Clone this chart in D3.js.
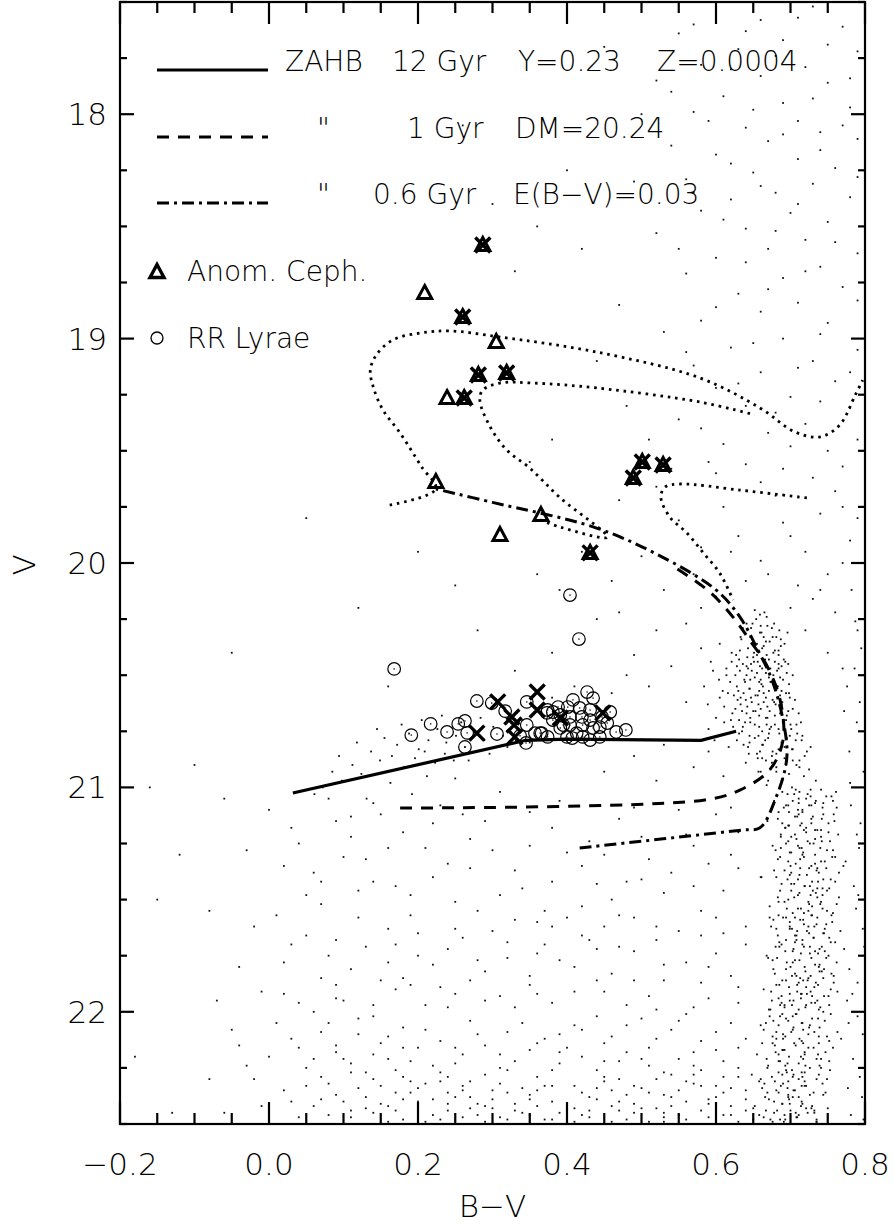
<!DOCTYPE html>
<html><head><meta charset="utf-8">
<script src="https://cdn.jsdelivr.net/npm/d3@7"></script>
<style>body{margin:0;background:#fff} text{font-family:"DejaVu Sans",sans-serif;font-weight:200;fill:#000}</style>
</head><body><svg id="c" width="894" height="1226"></svg>
<script>
// ---------------- DATA ----------------
const xMajorTicks=[-0.2,0.0,0.2,0.4,0.6,0.8];
const xTickLabels=["\u22120.2","0.0","0.2","0.4","0.6","0.8"];
const yMajorTicks=[18,19,20,21,22];
const yTickLabels=["18","19","20","21","22"];

// ZAHB / He-burning loci
const zahb12Gyr=[[0.032,21.025],[0.345,20.79],[0.40,20.785],[0.58,20.79],[0.627,20.75]];
const locus1Gyr=[[0.176,21.092],[0.585,21.056],[0.632,21.012],[0.672,20.922],[0.690,20.789],[0.686,20.61],[0.668,20.455],[0.645,20.343],[0.625,20.25],[0.592,20.13],[0.545,20.02]];
const locus06Gyr=[[0.417,21.27],[0.635,21.19],[0.659,21.18],[0.680,21.05],[0.695,20.87],[0.690,20.70],[0.675,20.52],[0.655,20.38],[0.632,20.24],[0.600,20.12],[0.520,19.96],[0.436,19.84],[0.300,19.73],[0.224,19.67]];
// dotted evolutionary tracks
const trackA=[[0.162,19.742],[0.224,19.670],[0.205,19.572],[0.176,19.421],[0.153,19.318],[0.140,19.216],[0.136,19.140],[0.144,19.073],[0.166,19.006],[0.203,18.975],[0.243,18.966],[0.310,18.993],[0.440,19.060],[0.579,19.176],[0.659,19.309],[0.706,19.416],[0.740,19.438],[0.766,19.385],[0.787,19.251],[0.797,19.185]];
const trackB=[[0.364,19.808],[0.391,19.840],[0.454,19.885],[0.391,19.710],[0.350,19.577],[0.319,19.496],[0.297,19.394],[0.283,19.274],[0.287,19.229],[0.310,19.198],[0.354,19.198],[0.440,19.220],[0.579,19.283],[0.652,19.340]];
const trackC=[[0.722,19.710],[0.632,19.675],[0.552,19.648],[0.532,19.661],[0.526,19.706],[0.538,19.795],[0.561,19.866],[0.583,19.955],[0.605,20.045],[0.623,20.165]];

// Anomalous Cepheids
const cephX=[0.287,0.209,0.260,0.305,0.281,0.319,0.239,0.262,0.224,0.365,0.310,0.431,0.501,0.529,0.489];
const cephV=[18.583,18.797,18.904,19.015,19.162,19.153,19.265,19.265,19.639,19.786,19.875,19.955,19.550,19.563,19.621];
// crossed stars
const crossX=[0.287,0.260,0.281,0.319,0.262,0.431,0.501,0.529,0.489,0.307,0.360,0.360,0.326,0.329,0.330,0.279,0.448,0.391];
const crossV=[18.583,18.904,19.162,19.153,19.265,19.955,19.550,19.563,19.621,20.619,20.575,20.655,20.686,20.722,20.775,20.758,20.668,20.691];
// RR Lyrae
const rrX=[0.168,0.404,0.416,0.191,0.217,0.239,0.254,0.263,0.266,0.263,0.279,0.299,0.306,0.346,0.346,0.345,0.357,0.366,0.374,0.374,0.381,0.388,0.391,0.391,0.401,0.404,0.404,0.408,0.400,0.407,0.417,0.420,0.421,0.427,0.435,0.431,0.431,0.435,0.431,0.444,0.447,0.444,0.458,0.454,0.466,0.479,0.413,0.395,0.381,0.373,0.421,0.364,0.317,0.337];
const rrV=[20.472,20.143,20.339,20.767,20.717,20.753,20.717,20.704,20.757,20.820,20.615,20.624,20.762,20.619,20.722,20.802,20.758,20.758,20.775,20.655,20.664,20.642,20.677,20.735,20.642,20.686,20.722,20.610,20.775,20.780,20.646,20.686,20.722,20.575,20.602,20.655,20.700,20.735,20.789,20.731,20.686,20.775,20.664,20.713,20.753,20.744,20.758,20.722,20.700,20.668,20.775,20.758,20.66,20.77];

// field stars [B-V, V]
const fieldClump=[[0.652,20.21],[0.668,20.24],[0.641,20.27],[0.675,20.29],[0.659,20.31],[0.633,20.33],[0.687,20.34],[0.648,20.36],[0.664,20.37],[0.679,20.39],[0.621,20.40],[0.655,20.41],[0.642,20.42],[0.671,20.43],[0.693,20.44],[0.636,20.45],[0.659,20.46],[0.684,20.47],[0.648,20.48],[0.667,20.49],[0.626,20.50],[0.677,20.50],[0.652,20.51],[0.690,20.52],[0.639,20.53],[0.661,20.54],[0.682,20.55],[0.645,20.56],[0.671,20.57],[0.616,20.58],[0.698,20.58],[0.656,20.59],[0.633,20.60],[0.676,20.61],[0.664,20.62],[0.688,20.63],[0.642,20.64],[0.703,20.65],[0.653,20.66],[0.622,20.67],[0.679,20.68],[0.667,20.69],[0.694,20.70],[0.646,20.71],[0.708,20.72],[0.658,20.73],[0.684,20.74],[0.635,20.75],[0.671,20.76],[0.699,20.77],[0.652,20.78],[0.715,20.79],[0.688,20.80],[0.663,20.81],[0.703,20.83],[0.676,20.84],[0.644,20.85],[0.719,20.86],[0.692,20.87],[0.667,20.88],[0.708,20.90],[0.681,20.91],[0.725,20.92],[0.657,20.93],[0.698,20.94],
[0.660,20.28],[0.646,20.33],[0.672,20.35],[0.657,20.39],[0.684,20.41],[0.631,20.43],[0.667,20.45],[0.651,20.44],[0.695,20.49],[0.641,20.50],[0.660,20.52],[0.673,20.53],[0.628,20.55],[0.658,20.57],[0.686,20.59],[0.647,20.60],[0.669,20.64],[0.697,20.66],[0.631,20.70],[0.679,20.72],[0.662,20.75],[0.709,20.76],[0.645,20.80],[0.727,20.82],[0.684,20.83],[0.656,20.87],[0.712,20.88],[0.690,20.96],[0.734,20.97],[0.668,20.99],
[0.593,20.44],[0.604,20.52],[0.589,20.63],[0.611,20.71],[0.598,20.79],[0.605,20.36],[0.584,20.55],[0.614,20.47],
[0.662,20.47],[0.648,20.62],[0.681,20.33],[0.639,20.71],[0.671,20.51],[0.654,20.25],[0.695,20.68],[0.628,20.46],[0.666,20.79],[0.688,20.57],[0.643,20.38],[0.675,20.86],[0.657,20.63],[0.619,20.53],[0.701,20.74],[0.661,20.31],[0.684,20.45],[0.637,20.58],[0.669,20.69],[0.650,20.42],[0.692,20.82],[0.626,20.65],[0.678,20.27],[0.645,20.77],[0.663,20.55],[0.706,20.61],[0.634,20.34],[0.673,20.92],[0.655,20.49],[0.687,20.37],[0.641,20.67],[0.668,20.41],[0.698,20.54],[0.623,20.73],[0.659,20.84],[0.680,20.63],[0.647,20.29],[0.714,20.71],[0.664,20.58],[0.632,20.48],[0.691,20.43],[0.652,20.72],[0.676,20.53],[0.640,20.89],[0.667,20.35],[0.703,20.88],[0.629,20.61],[0.685,20.76],[0.656,20.44],[0.611,20.64],[0.672,20.66],[0.646,20.52],[0.696,20.31],[0.660,20.93],[0.682,20.48],[0.637,20.81],[0.718,20.95],[0.653,20.59],[0.674,20.73],[0.621,20.44],[0.689,20.62],[0.665,20.22],[0.643,20.47],[0.707,20.79],[0.658,20.68],[0.679,20.56],[0.631,20.76],[0.694,20.90],[0.650,20.35],[0.670,20.78],[0.609,20.57],[0.686,20.51],[0.662,20.87],[0.722,20.84],[0.635,20.66],[0.677,20.40],[0.600,20.69],[0.596,20.48],[0.617,20.82],[0.590,20.74],
[0.655,20.36],[0.678,20.62],[0.641,20.46],[0.669,20.28],[0.690,20.71],[0.630,20.57],[0.662,20.81],[0.684,20.39],[0.646,20.69],[0.673,20.47],[0.636,20.29],[0.699,20.60],[0.658,20.53],[0.620,20.70],[0.681,20.85],[0.651,20.40],[0.667,20.60],[0.703,20.50],[0.643,20.82],[0.676,20.33],[0.627,20.41],[0.688,20.46],[0.660,20.65],[0.695,20.78],[0.638,20.52],[0.672,20.74],[0.649,20.27],[0.711,20.67],[0.666,20.43],[0.633,20.63],[0.683,20.55],[0.657,20.77],[0.692,20.36],[0.624,20.59],[0.675,20.89],[0.645,20.56],[0.702,20.83],[0.662,20.38],[0.686,20.67],[0.614,20.50],[0.655,20.85],[0.679,20.44],[0.640,20.61],[0.697,20.45],[0.668,20.72],[0.632,20.39],[0.712,20.91],[0.650,20.66],[0.685,20.30],[0.605,20.60],[0.670,20.97],[0.694,20.58],[0.628,20.79],[0.659,20.23],[0.681,20.93],[0.716,20.77],[0.647,20.45],[0.664,20.33],[0.700,20.72],[0.636,20.73]];
const fieldRGB=[[0.702,21.00],[0.741,21.01],[0.689,21.02],[0.723,21.03],[0.755,21.04],[0.711,21.05],[0.678,21.06],[0.733,21.07],[0.697,21.08],[0.762,21.09],[0.716,21.10],[0.684,21.11],[0.744,21.12],[0.706,21.13],[0.728,21.14],[0.669,21.15],[0.751,21.16],[0.713,21.17],[0.693,21.18],[0.736,21.19],[0.721,21.20],[0.764,21.21],[0.687,21.22],[0.708,21.23],[0.742,21.24],[0.726,21.25],[0.676,21.26],[0.715,21.27],[0.757,21.28],[0.699,21.29],[0.733,21.30],[0.718,21.31],[0.683,21.32],[0.746,21.33],[0.707,21.34],[0.771,21.35],[0.725,21.36],[0.692,21.37],[0.738,21.38],[0.712,21.39],[0.661,21.40],[0.754,21.41],[0.729,21.42],[0.701,21.43],[0.719,21.44],[0.743,21.45],[0.686,21.46],[0.734,21.47],[0.710,21.48],[0.765,21.49],[0.697,21.50],[0.724,21.51],[0.740,21.52],[0.672,21.53],[0.714,21.54],[0.749,21.55],[0.703,21.56],[0.728,21.57],[0.690,21.58],[0.717,21.59],[0.756,21.60],[0.735,21.61],[0.699,21.62],[0.681,21.63],[0.722,21.64],[0.745,21.65],[0.708,21.66],[0.731,21.67],[0.694,21.68],[0.760,21.69],[0.716,21.70],[0.685,21.71],[0.739,21.72],[0.703,21.73],[0.726,21.74],[0.668,21.75],[0.748,21.76],[0.712,21.77],[0.695,21.78],[0.733,21.79],[0.719,21.80],[0.677,21.81],[0.742,21.82],[0.706,21.83],[0.758,21.84],[0.724,21.85],[0.689,21.86],[0.711,21.87],[0.737,21.88],[0.698,21.89],[0.664,21.90],[0.727,21.91],[0.715,21.92],[0.751,21.93],[0.684,21.94],[0.704,21.95],[0.733,21.96],[0.692,21.97],[0.720,21.98],[0.673,21.99],[0.744,22.00],[0.708,22.01],[0.686,22.02],[0.729,22.03],[0.697,22.04],[0.716,22.05],[0.660,22.06],[0.739,22.07],[0.703,22.08],[0.681,22.09],[0.724,22.10],[0.693,22.11],[0.712,22.12],[0.752,22.13],[0.676,22.14],[0.707,22.15],[0.731,22.16],[0.689,22.17],[0.719,22.18],[0.655,22.19],[0.698,22.20],[0.741,22.21],[0.684,22.22],[0.711,22.23],[0.670,22.24],[0.726,22.25],[0.694,22.26],[0.715,22.27],[0.648,22.28],[0.703,22.29],[0.735,22.30],[0.679,22.31],[0.690,22.32],[0.721,22.33],[0.662,22.34],[0.706,22.35],[0.684,22.36],[0.744,22.37],[0.697,22.38],[0.671,22.39],[0.715,22.40],[0.689,22.41],[0.652,22.42],[0.728,22.43],[0.700,22.44],[0.678,22.45],[0.711,22.46],[0.664,22.47],[0.693,22.48],[0.735,22.49],
[0.712,21.47],[0.688,21.93],[0.741,21.22],[0.703,22.38],[0.726,21.71],[0.679,22.15],[0.757,21.06],[0.694,21.58],[0.719,22.27],[0.733,21.34],[0.667,22.44],[0.745,21.81],[0.709,21.13],[0.684,22.06],[0.728,21.96],[0.699,21.39],[0.762,21.52],[0.715,22.33],[0.676,21.77],[0.738,22.11],[0.705,21.03],[0.691,22.49],[0.724,21.62],[0.749,21.28],[0.681,21.88],[0.717,22.21],[0.697,21.17],[0.736,21.45],[0.658,22.31],[0.711,21.99],[0.754,21.69],[0.686,21.31],[0.729,22.42],[0.702,21.84],[0.743,21.09],[0.672,22.02],[0.718,21.56],[0.693,22.24],[0.731,21.25],[0.708,22.47],[0.765,21.38],[0.683,21.66],[0.722,21.92],[0.747,22.18],[0.698,21.11],[0.714,21.74],[0.669,22.36],[0.736,21.49],[0.701,22.09],[0.727,21.01],[0.688,21.43],[0.752,21.97],[0.716,22.29],[0.677,21.59],[0.739,21.79],[0.706,21.21],[0.692,21.98],[0.723,22.45],[0.759,21.15],[0.684,22.19],[0.713,21.36],[0.734,21.87],[0.696,22.34],[0.748,21.61],[0.664,22.08],[0.721,21.05],[0.704,21.72],[0.741,22.25],[0.687,21.27],[0.729,21.53],[0.699,22.41],[0.755,21.83],[0.718,21.19],[0.675,21.95],[0.737,22.03],[0.709,21.64],[0.694,21.08],[0.726,22.37],[0.744,21.41],[0.682,21.76],[0.715,22.13],[0.701,21.29],[0.763,21.91],[0.731,21.67],[0.689,22.28],[0.719,21.44],[0.673,22.48],[0.742,21.14],[0.707,22.01],[0.732,21.89],[0.695,21.54],[0.752,22.22],[0.713,21.32],[0.685,21.69],[0.724,22.16],[0.761,21.02],[0.698,22.39],[0.735,21.37],[0.679,21.83],[0.711,21.07],[0.746,21.73],[0.702,22.26],[0.727,21.48],[0.690,22.12],[0.717,21.86],[0.756,21.31],[0.668,22.21],[0.738,21.99],[0.706,21.58],[0.721,22.43],[0.693,21.18],[0.749,21.46],[0.714,21.94],[0.681,22.35],[0.733,21.23],[0.703,21.78],[0.767,21.64],[0.725,22.07],[0.696,21.41],[0.743,22.32],[0.711,21.12],[0.686,21.97],[0.729,21.57],[0.658,22.46],[0.739,21.82],[0.719,22.19],[0.700,21.35],[0.753,21.24],[0.677,22.04],[0.716,21.68],[0.735,22.49],[0.692,21.51],[0.709,21.91],[0.748,21.04],[0.684,22.27],[0.722,21.39],[0.705,22.14],[0.737,21.74],[0.674,21.62],[0.728,21.16],[0.697,22.31],[0.757,21.56],[0.713,21.85],[0.689,22.41],[0.741,21.33],[0.703,21.06],[0.720,22.24],[0.680,21.71],[0.745,21.93],[0.710,21.26],[0.732,22.09],[0.694,21.81],[0.666,22.38],[0.726,21.44],[0.751,21.75],[0.707,22.45],[0.687,21.21],[0.718,21.61],[0.738,22.28],[0.699,21.95],[0.760,21.42],[0.715,22.05],[0.683,21.49],[0.730,21.13],[0.704,22.35],[0.744,21.65],[0.690,22.17],[0.723,21.86],[0.671,21.99],[0.712,21.02],[0.736,21.58],[0.696,22.23],[0.754,22.01],[0.717,21.29],[0.681,22.12],[0.728,21.76],[0.701,21.46],[0.747,22.36],[0.709,21.88],[0.686,22.48],[0.733,21.19],[0.719,22.33],[0.662,22.14],[0.741,21.51],[0.706,21.69],[0.694,22.03],[0.725,21.08],[0.758,21.87],[0.714,22.42],[0.678,21.37],[0.737,22.19],[0.702,21.63],[0.721,21.97],[0.689,21.16],[0.749,22.11],[0.710,21.54],[0.732,22.44],[0.697,21.24],[0.675,22.29],[0.742,21.71],[0.716,21.11],[0.704,22.07],[0.727,21.84],[0.684,21.57],[0.753,22.26],[0.699,21.92],[0.736,21.36],
[0.705,21.43],[0.731,22.36],[0.683,21.14],[0.752,21.67],[0.717,22.08],[0.694,21.86],[0.740,21.27],[0.669,22.25],[0.725,21.52],[0.709,22.47],[0.758,21.12],[0.688,21.70],[0.736,21.95],[0.701,21.22],[0.678,22.40],[0.746,22.04],[0.713,21.59],[0.692,22.17],[0.728,21.08],[0.762,21.78],[0.697,21.33],[0.719,22.31],[0.674,21.91],[0.743,21.48],[0.707,21.01],[0.686,22.22],[0.733,21.73],[0.715,21.16],[0.750,22.43],[0.699,21.63],[0.721,21.89],[0.680,21.28],[0.738,22.14],[0.710,21.41],[0.692,22.46],[0.755,21.57],[0.727,21.04],[0.704,22.28],[0.670,21.76],[0.744,21.85],[0.716,21.30],[0.689,22.01],[0.732,21.62],[0.698,21.17],[0.763,22.09],[0.711,22.38],[0.684,21.51],[0.740,21.98],[0.723,21.24],[0.700,21.80],[0.676,22.11],[0.748,21.36],[0.714,22.20],[0.691,21.09],[0.735,22.48],[0.706,21.66],[0.729,21.93],[0.665,22.32],[0.752,21.45],[0.718,21.71],[0.695,22.27],[0.741,21.19],[0.708,21.84],[0.682,22.44],[0.724,21.55],[0.757,22.16],[0.701,21.38],[0.734,21.06],[0.688,21.96],[0.716,22.41],[0.746,21.63],[0.672,21.58],[0.712,21.27],[0.739,22.24],[0.693,21.73],[0.726,22.06],[0.705,21.49],[0.760,21.31],[0.680,22.18],[0.720,21.82],[0.697,22.37],[0.737,21.42],[0.710,21.10],[0.685,21.88],[0.749,22.30],[0.703,22.02],[0.728,21.35],[0.667,22.05],[0.743,21.54],[0.714,21.92],[0.694,21.25],[0.732,22.45],[0.708,21.68],[0.754,21.90],[0.687,22.33],[0.721,21.18],[0.699,21.60],[0.738,21.80],[0.676,22.49],[0.717,22.14],[0.744,21.07],[0.702,21.97],[0.730,21.46],[0.690,22.10],[0.725,21.65],[0.711,22.30],[0.681,21.40],[0.751,21.20],[0.706,21.77],[0.735,22.21],[0.696,21.03],
[0.782,20.12],[0.795,20.38],[0.776,20.55],[0.789,20.71],[0.798,20.93],[0.781,21.08],[0.792,21.27],[0.785,21.44],[0.797,21.63],[0.779,21.81],[0.790,22.02],[0.784,22.21],[0.796,22.38],[0.787,20.26],[0.779,20.84],[0.794,21.16],[0.788,21.54],[0.776,21.95],[0.793,22.29],[0.781,22.46],[0.770,20.47],[0.772,21.72],[0.768,22.12],
[0.774,21.33],[0.791,21.48],[0.783,21.92],[0.797,22.10],[0.777,22.34],[0.789,21.21],[0.799,21.71],[0.780,20.98],[0.793,20.62],[0.786,20.47],[0.772,20.66],[0.798,22.48],[0.778,22.05],[0.790,21.87]];
const fieldUpper=[[0.47,20.22],[0.52,20.30],[0.56,20.27],[0.49,20.41],[0.54,20.46],[0.58,20.38],[0.51,20.55],[0.46,20.58],[0.56,20.62],[0.53,20.81],[0.49,20.86],[0.57,20.91],[0.61,20.95],[0.45,20.93],[0.52,20.97],[0.59,20.84],[0.48,20.50],
[0.47,19.72],[0.52,19.66],[0.55,19.81],[0.58,19.93],[0.61,19.75],[0.63,19.88],[0.66,19.99],[0.69,19.82],[0.72,19.95],[0.75,20.05],[0.78,19.90],[0.74,19.78],[0.71,20.10],[0.64,20.08],[0.60,20.15],[0.57,20.05],[0.50,19.97],[0.46,20.08],[0.42,19.95],[0.39,20.12],[0.36,20.05],[0.68,19.70],[0.76,19.68],[0.79,19.80],[0.73,20.16],
[0.60,17.55],[0.66,17.58],[0.73,17.52],[0.77,17.61],[0.55,17.64],[0.69,17.67],[0.79,17.72],[0.63,17.71],[0.58,17.78],[0.72,17.79],[0.66,17.83],[0.75,17.86],[0.52,17.85],[0.61,17.92],[0.69,17.95],[0.78,17.97],[0.57,17.99],[0.71,18.03],[0.64,18.06],[0.74,18.08],[0.67,18.12],[0.79,18.11],[0.54,18.14],[0.60,18.18],[0.71,18.20],[0.76,18.24],[0.65,18.26],[0.56,18.29],[0.73,18.31],[0.68,18.35],[0.62,18.38],[0.78,18.37],[0.58,18.43],[0.70,18.44],[0.75,18.48],[0.64,18.51],[0.52,18.53],[0.72,18.56],[0.67,18.60],[0.79,18.62],[0.60,18.64],[0.74,18.68],[0.56,18.71],[0.69,18.73],[0.77,18.77],[0.63,18.80],[0.71,18.84],[0.66,18.88],[0.58,18.92],[0.75,18.93],[0.53,18.97],[0.69,19.00],[0.62,19.04],[0.79,19.05],[0.73,19.10],[0.57,19.12],[0.66,19.15],[0.76,19.19],[0.60,19.22],[0.70,19.26],[0.64,19.30],[0.78,19.31],[0.55,19.36],[0.72,19.38],[0.67,19.42],[0.61,19.47],[0.75,19.50],[0.59,19.55],[0.69,19.58],[0.77,19.57],[0.51,19.45],[0.48,19.30],[0.44,19.10],[0.47,18.85],[0.42,18.60],[0.40,18.25],[0.36,18.50],[0.38,19.45],[0.33,18.70],[0.35,19.55],[0.30,18.40],[0.26,18.05],[0.45,17.70],[0.50,18.00],[0.49,18.30],
[0.57,17.60],[0.64,17.63],[0.71,17.57],[0.75,17.69],[0.62,17.80],[0.68,17.74],[0.78,17.84],[0.54,17.90],[0.73,17.93],[0.65,17.98],[0.59,18.03],[0.77,18.05],[0.69,18.09],[0.62,18.22],[0.74,18.16],[0.57,18.35],[0.66,18.32],[0.79,18.28],[0.71,18.40],[0.61,18.47],[0.68,18.52],[0.76,18.57],[0.55,18.60],[0.64,18.66],[0.72,18.70],[0.79,18.83],[0.67,18.78],[0.60,18.86],[0.74,18.98],[0.65,19.02],[0.56,19.06],[0.71,19.13],[0.78,19.15],[0.63,19.20],[0.68,19.33],[0.74,19.28],[0.58,19.40],[0.70,19.48],[0.79,19.45],[0.64,19.56],[0.73,19.62],[0.66,19.64],[0.77,19.75],[0.70,19.88],[0.60,19.60],[0.54,19.58],[0.62,19.95],[0.67,20.05],[0.77,20.00],[0.74,20.12],[0.70,20.20],[0.79,20.30],[0.75,20.40],[0.72,20.30],[0.76,20.22],[0.58,20.20],[0.53,20.12],[0.44,20.25],[0.41,20.55],[0.38,20.60],
[0.05,19.80],[0.12,20.20],[-0.05,20.40],[0.20,19.95],[0.28,20.30],[0.16,20.55],[0.33,20.48],[0.25,20.10],[0.38,20.40]];
const fieldBHB=[[0.155,20.78],[0.172,20.81],[0.188,20.76],[0.201,20.83],[0.214,20.79],[0.226,20.74],[0.238,20.80],[0.251,20.77],[0.263,20.82],[0.276,20.75],[0.289,20.79],[0.301,20.73],[0.314,20.77],[0.137,20.84],[0.149,20.88],[0.165,20.86],[0.181,20.91],[0.196,20.87],[0.209,20.84],[0.223,20.89],[0.236,20.85],[0.248,20.88],[0.112,20.90],[0.124,20.94],[0.098,20.97],[0.085,20.93],[0.072,21.00],[0.061,21.03],[0.178,20.72],[0.205,20.70],[0.232,20.68],[0.258,20.71],[0.284,20.69],[0.145,20.74],[0.118,20.80],[0.094,20.86],[0.268,20.88],[0.212,20.95],[0.163,20.98],[0.131,21.05],[0.192,21.03],[0.250,20.96],[0.296,20.85],[0.320,20.82],[0.340,20.70],[0.350,20.80]];
const fieldLower=[[0.00,21.10],[0.04,21.25],[0.09,21.15],[0.13,21.32],[0.18,21.20],[0.22,21.40],[0.26,21.12],[0.30,21.28],[0.34,21.45],[0.38,21.18],[0.42,21.35],[0.46,21.50],[0.50,21.22],[0.54,21.38],[0.58,21.55],[0.62,21.30],[0.64,21.62],[0.60,21.12],[0.52,21.68],[0.44,21.72],[0.36,21.60],[0.28,21.55],[0.20,21.65],[0.12,21.58],[0.05,21.48],[-0.02,21.62],[0.08,21.75],[0.16,21.78],[0.24,21.72],[0.32,21.76],[0.40,21.58],[0.48,21.42],[0.56,21.78],[0.61,21.46],[0.47,21.14],[0.39,21.06],[0.31,21.02],[0.23,21.08],[0.15,21.12],[0.11,21.22],[0.02,21.35],[0.07,21.42],[0.19,21.48],[0.27,21.36],[0.35,21.26],[0.43,21.24],[0.51,21.32],[0.57,21.44],[0.63,21.20],[0.66,21.40],[0.41,21.80],[0.29,21.82],[0.18,21.85],[0.09,21.88],[-0.04,21.80],[0.53,21.86],[0.45,21.62],[0.37,21.70],[0.25,21.63],[0.14,21.42],[0.03,21.70],[-0.08,21.55],[-0.12,21.30],[-0.06,21.05],[0.58,21.66],[0.49,21.58],
[0.03,21.18],[0.07,21.52],[0.10,21.31],[0.14,21.07],[0.17,21.44],[0.21,21.27],[0.25,21.51],[0.29,21.15],[0.33,21.37],[0.37,21.55],[0.40,21.29],[0.44,21.43],[0.49,21.09],[0.53,21.47],[0.56,21.21],[0.60,21.58],[0.63,21.36],[0.55,21.10],[0.45,21.30],[0.35,21.11],[0.24,21.34],[0.12,21.46],[0.01,21.57],[-0.03,21.28],[0.08,21.05],[0.19,21.57],[0.31,21.48],[0.42,21.53],[0.59,21.34],[0.50,21.41],[0.27,21.23],[0.16,21.27],[0.06,21.38],[0.38,21.42],[0.47,21.57],[0.62,21.09],[0.22,21.16],[0.33,21.59],[0.57,21.26],[0.11,21.13],
[0.02,21.78],[0.05,21.66],[0.09,21.94],[0.13,21.71],[0.16,21.63],[0.19,21.88],[0.22,21.79],[0.26,21.67],[0.29,21.95],[0.32,21.69],[0.35,21.84],[0.38,21.62],[0.41,21.91],[0.43,21.68],[0.46,21.83],[0.49,21.73],[0.51,21.93],[0.55,21.64],[0.58,21.87],[0.60,21.74],[0.63,21.96],[0.64,21.70],[0.48,21.97],[0.36,21.92],[0.23,21.89],[0.11,21.81],[-0.01,21.91],[0.07,21.85],[0.17,21.70],[0.27,21.86],[0.39,21.77],[0.53,21.79],[0.61,21.65],[0.44,21.86],[0.30,21.64],[0.20,21.75],[0.14,21.97],[0.04,21.96],[0.33,21.98],[0.57,21.98],[0.42,21.66],[0.25,21.92],[0.52,21.62],[0.09,21.68],[0.15,21.86],[0.36,21.74],[0.47,21.71],[0.59,21.80],[0.62,21.84],[0.28,21.77],
[0.02,21.92],[0.10,21.95],[0.17,21.90],[0.24,21.98],[0.31,21.93],[0.38,21.96],[0.45,21.91],[0.52,21.99],[0.59,21.94],[0.63,21.89],[0.06,22.00],[0.14,22.02],[0.21,21.97],[0.35,21.88],[0.49,21.86],[0.56,22.01],
[-0.05,22.08],[0.03,22.12],[0.08,22.05],[0.12,22.10],[0.18,22.07],[0.23,22.13],[0.27,22.04],[0.32,22.09],[0.36,22.14],[0.41,22.06],[0.46,22.11],[0.50,22.03],[0.54,22.08],[0.58,22.13],[0.62,22.05],[0.64,22.12],[0.29,22.15],[0.44,22.02],[0.15,22.14],[0.39,22.10],
[0.00,22.20],[0.05,22.25],[0.09,22.18],[0.13,22.27],[0.16,22.21],[0.20,22.16],[0.22,22.24],[0.26,22.19],[0.29,22.28],[0.33,22.22],[0.35,22.17],[0.38,22.26],[0.42,22.20],[0.45,22.29],[0.48,22.18],[0.51,22.24],[0.55,22.21],[0.57,22.28],[0.60,22.17],[0.63,22.25],[0.11,22.23],[0.24,22.29],[0.40,22.16],[0.53,22.27],[0.47,22.22],[0.31,22.25],[0.18,22.29],[0.07,22.29],[-0.03,22.24],[0.61,22.22],
[0.02,22.35],[0.06,22.42],[0.08,22.32],[0.11,22.47],[0.13,22.38],[0.15,22.33],[0.17,22.44],[0.19,22.36],[0.21,22.49],[0.23,22.31],[0.24,22.41],[0.26,22.35],[0.28,22.46],[0.30,22.39],[0.31,22.32],[0.33,22.44],[0.35,22.37],[0.37,22.48],[0.38,22.33],[0.40,22.42],[0.42,22.36],[0.43,22.47],[0.45,22.31],[0.47,22.40],[0.49,22.45],[0.50,22.34],[0.52,22.43],[0.54,22.38],[0.56,22.48],[0.57,22.32],[0.59,22.41],[0.61,22.36],[0.62,22.46],[0.64,22.39],[0.10,22.40],[0.14,22.45],[0.18,22.39],[0.22,22.46],[0.27,22.43],[0.32,22.48],[0.36,22.42],[0.41,22.49],[0.44,22.39],[0.48,22.37],[0.53,22.47],[0.58,22.44],[0.60,22.33],[0.65,22.43],[0.04,22.47],[0.20,22.34],[0.29,22.42],[0.34,22.34],[0.39,22.45],[0.46,22.35],[0.51,22.49],[0.55,22.35],[0.63,22.49],[-0.01,22.42],[0.25,22.38],[0.16,22.49],
[0.01,22.05],[0.04,22.16],[0.07,22.09],[0.09,22.37],[0.10,22.21],[0.12,22.03],[0.13,22.43],[0.14,22.30],[0.16,22.11],[0.17,22.36],[0.19,22.22],[0.20,22.45],[0.21,22.08],[0.22,22.39],[0.23,22.27],[0.25,22.16],[0.26,22.47],[0.27,22.31],[0.28,22.10],[0.30,22.43],[0.31,22.19],[0.32,22.36],[0.34,22.05],[0.35,22.46],[0.36,22.29],[0.37,22.12],[0.38,22.40],[0.39,22.23],[0.41,22.33],[0.42,22.08],[0.43,22.44],[0.44,22.26],[0.45,22.14],[0.46,22.49],[0.47,22.30],[0.48,22.06],[0.49,22.41],[0.50,22.21],[0.51,22.36],[0.52,22.12],[0.53,22.45],[0.54,22.28],[0.55,22.04],[0.56,22.40],[0.57,22.18],[0.58,22.33],[0.59,22.47],[0.60,22.09],[0.61,22.29],[0.62,22.42],[0.63,22.16],[0.64,22.35],[0.65,22.48],[0.05,22.33],[0.08,22.46],[0.11,22.27],[0.15,22.41],[0.18,22.48],[0.21,22.32],[0.24,22.44],[0.27,22.38],[0.29,22.49],[0.33,22.41],[0.36,22.35],[0.40,22.47],[0.43,22.38],[0.47,22.44],[0.50,22.43],[0.53,22.37],[0.56,22.31],[0.59,22.39],[0.62,22.34],[0.03,22.40],[0.06,22.21],[0.12,22.34],[0.16,22.42],[0.19,22.31],[0.23,22.48],[0.26,22.33],[0.30,22.35],[0.34,22.45],[0.37,22.33],[0.41,22.43],[0.44,22.34],[0.48,22.48],[0.52,22.30],[0.55,22.46],[0.58,22.26],[0.61,22.46],[0.64,22.44],[-0.02,22.30],[-0.06,22.45],[-0.04,22.15],[0.00,22.48],[0.09,22.15],[0.14,22.19],[0.18,22.16],[0.25,22.23],[0.32,22.26],[0.39,22.18],[0.45,22.22],[0.51,22.16],[0.57,22.24],[0.63,22.29],[0.20,22.40],[0.28,22.41],[0.35,22.39],[0.42,22.46],[0.49,22.33],[0.54,22.42],[0.60,22.38],[0.07,22.39],[0.11,22.44],[0.24,22.36],[0.38,22.48],[0.46,22.42],[0.53,22.49],[0.66,22.30],[0.31,22.47],[0.17,22.26],
[-0.15,21.50],[-0.10,20.90],[-0.18,22.20],[-0.13,22.45],[-0.08,22.30],[-0.07,21.95],[-0.16,21.00]];

// legend
const legendLines=[
 {dash:null, y:70, texts:[["ZAHB",285],["12  Gyr",392],["Y=0.23",518],["Z=0.0004",657]]},
 {dash:"12,9", y:137, texts:[["\"",317],["1  Gyr",407],["DM=20.24",515]]},
 {dash:"12,5,3,5", y:203, texts:[["\"",317],["0.6  Gyr",373],["E(B\u2212V)=0.03",513]]}
];

// ---------------- DRAW ----------------
const L=120,R=865,T=2,B=1124;
const svg=d3.select("#c");
const x=d3.scaleLinear().domain([-0.2,0.8]).range([L,R]);
const y=d3.scaleLinear().domain([17.5,22.5]).range([T,B]);
const plot=svg.append("g");
plot.append("defs").append("clipPath").attr("id","clip").append("rect").attr("x",L).attr("y",T).attr("width",R-L).attr("height",B-T);
const g=plot.append("g").attr("clip-path","url(#clip)");

const field=[].concat(fieldClump,fieldRGB,fieldUpper,fieldBHB,fieldLower);
g.selectAll("rect.f").data(field).join("rect").attr("class","f")
 .attr("x",d=>x(d[0])-0.9).attr("y",d=>y(d[1])-0.9).attr("width",1.8).attr("height",1.8).attr("fill","#111");

const line=d3.line().x(d=>x(d[0])).y(d=>y(d[1])).curve(d3.curveCatmullRom.alpha(0.5));
const lineLin=d3.line().x(d=>x(d[0])).y(d=>y(d[1]));
g.append("path").attr("d",lineLin(zahb12Gyr)).attr("fill","none").attr("stroke","#000").attr("stroke-width",3.2);
g.append("path").attr("d",line(locus1Gyr)).attr("fill","none").attr("stroke","#000").attr("stroke-width",3).attr("stroke-dasharray","12,9");
g.append("path").attr("d",line(locus06Gyr)).attr("fill","none").attr("stroke","#000").attr("stroke-width",3).attr("stroke-dasharray","12,5,3,5");
[trackA,trackB,trackC].forEach(t=>{
 g.append("path").attr("d",line(t)).attr("fill","none").attr("stroke","#000").attr("stroke-width",2.8).attr("stroke-dasharray","2.6,4.8");
});

// RR Lyrae
const rr=rrX.map((v,i)=>[v,rrV[i]]);
g.selectAll("circle.rr").data(rr).join("circle").attr("class","rr").attr("cx",d=>x(d[0])).attr("cy",d=>y(d[1])).attr("r",6.3)
 .attr("fill","none").attr("stroke","#000").attr("stroke-width",1.2);
g.selectAll("rect.rrc").data(rr).join("rect").attr("class","rrc").attr("x",d=>x(d[0])-0.7).attr("y",d=>y(d[1])-0.7).attr("width",1.4).attr("height",1.4).attr("fill","#222");

// Cepheids
const triPath="M0,-7.5L7,5.5L-7,5.5Z";
const ceph=cephX.map((v,i)=>[v,cephV[i]]);
g.selectAll("path.ac").data(ceph).join("path").attr("class","ac").attr("d",triPath)
 .attr("transform",d=>`translate(${x(d[0])},${y(d[1])})`).attr("fill","none").attr("stroke","#000").attr("stroke-width",3).attr("stroke-linejoin","miter");
const crosses=crossX.map((v,i)=>[v,crossV[i]]);
g.selectAll("path.cx").data(crosses).join("path").attr("class","cx").attr("d","M-7.5,-7.5L7.5,7.5M-7.5,7.5L7.5,-7.5")
 .attr("transform",d=>`translate(${x(d[0])},${y(d[1])})`).attr("fill","none").attr("stroke","#000").attr("stroke-width",3.4);

// Frame & ticks
const ax=svg.append("g").attr("stroke","#000").attr("stroke-width",2.2).attr("fill","none");
ax.append("rect").attr("x",L).attr("y",T).attr("width",R-L).attr("height",B-T);
const xMinor=d3.range(-0.2,0.8001,0.05).map(v=>+v.toFixed(2));
xMinor.forEach(v=>{
 const major=xMajorTicks.some(m=>Math.abs(m-v)<1e-6); const len=major?22:11;
 ax.append("line").attr("x1",x(v)).attr("x2",x(v)).attr("y1",B).attr("y2",B-len);
 ax.append("line").attr("x1",x(v)).attr("x2",x(v)).attr("y1",T).attr("y2",T+len);
});
const yMinor=d3.range(17.5,22.5001,0.25).map(v=>+v.toFixed(2));
yMinor.forEach(v=>{
 const major=yMajorTicks.some(m=>Math.abs(m-v)<1e-6); const len=major?14:7;
 ax.append("line").attr("y1",y(v)).attr("y2",y(v)).attr("x1",L).attr("x2",L+len);
 ax.append("line").attr("y1",y(v)).attr("y2",y(v)).attr("x1",R).attr("x2",R-len);
});
// tick labels
svg.append("g").selectAll("text").data(xMajorTicks).join("text")
 .attr("x",d=>x(d)).attr("y",1175).attr("text-anchor","middle").attr("font-size",31).text((d,i)=>xTickLabels[i]);
svg.append("g").selectAll("text").data(yMajorTicks).join("text")
 .attr("x",107).attr("y",d=>y(d)+11).attr("text-anchor","end").attr("font-size",31).text((d,i)=>yTickLabels[i]);
svg.append("text").attr("x",(L+R)/2).attr("y",1217).attr("text-anchor","middle").attr("font-size",31).text("B\u2212V");
svg.append("text").attr("transform","translate(35,565) rotate(-90)").attr("text-anchor","middle").attr("font-size",31).text("V");

// legend
const lg=svg.append("g");
legendLines.forEach(r=>{
 const p=lg.append("line").attr("x1",157).attr("x2",268).attr("y1",r.y).attr("y2",r.y).attr("stroke","#000").attr("stroke-width",3.2);
 if(r.dash) p.attr("stroke-dasharray",r.dash);
 r.texts.forEach(t=>lg.append("text").attr("x",t[1]).attr("y",r.y+1).attr("font-size",28).text(t[0]));
});
lg.append("path").attr("d",triPath).attr("transform","translate(157,272)").attr("fill","none").attr("stroke","#000").attr("stroke-width",3.4);
lg.append("text").attr("x",187).attr("y",281).attr("font-size",28).text("Anom.  Ceph.");
lg.append("circle").attr("cx",157).attr("cy",338).attr("r",6).attr("fill","none").attr("stroke","#000").attr("stroke-width",1.3);
lg.append("text").attr("x",187).attr("y",348).attr("font-size",28).text("RR  Lyrae");
</script></body></html>
